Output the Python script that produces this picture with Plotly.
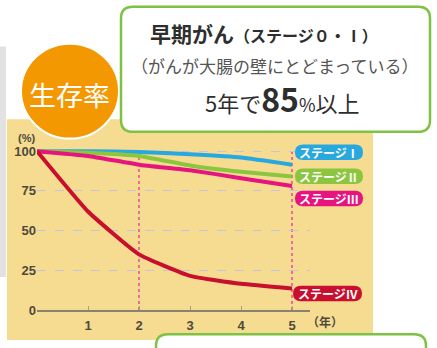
import plotly.graph_objects as go

# ---------------- data ----------------
years = [0, 1, 2, 3, 4, 5]
stage1 = [100, 100, 99.5, 98, 96, 91.5]
stage2 = [100, 99, 97, 91, 87, 84]
stage3 = [100, 97, 91.5, 88, 83, 78]
stage4 = [100, 62, 35, 21.5, 16.5, 13.5]
series_names = ["ステージⅠ", "ステージⅡ", "ステージⅢ", "ステージⅣ"]
series_values = [stage1, stage2, stage3, stage4]
series_colors = ["#27a8e0", "#8cc63f", "#e5147f", "#c8102e"]
y_ticks = [0, 25, 50, 75, 100]
x_ticks = [1, 2, 3, 4, 5]
marked_years = [2, 5]

# ---------------- layout helpers (pixel -> paper) ----------------
W, H = 437, 348


def px(x):
    return x / W


def py(y):
    return 1 - y / H


def rrect(x0, y0, x1, y1, r):
    """rounded rectangle path in paper coords from pixel coords"""
    pts = [
        f"M {px(x0 + r)} {py(y0)}",
        f"L {px(x1 - r)} {py(y0)}",
        f"Q {px(x1)} {py(y0)} {px(x1)} {py(y0 + r)}",
        f"L {px(x1)} {py(y1 - r)}",
        f"Q {px(x1)} {py(y1)} {px(x1 - r)} {py(y1)}",
        f"L {px(x0 + r)} {py(y1)}",
        f"Q {px(x0)} {py(y1)} {px(x0)} {py(y1 - r)}",
        f"L {px(x0)} {py(y0 + r)}",
        f"Q {px(x0)} {py(y0)} {px(x0 + r)} {py(y0)}",
        "Z",
    ]
    return " ".join(pts)


# plot area in pixels
X0_PX, X_PER_YEAR = 37, 51
DOM_L, DOM_R = 37, 310
Y0_PX, Y_PER_UNIT = 317, 1.64
DOM_T = 149

fig = go.Figure()

for name, vals, col in zip(series_names, series_values, series_colors):
    fig.add_trace(go.Scatter(
        x=years, y=vals, mode="lines", name=name,
        line=dict(color=col, width=4, shape="spline", smoothing=0.4),
        hoverinfo="skip", showlegend=False,
    ))

shapes = []
# left grey strip
shapes.append(dict(type="rect", xref="paper", yref="paper",
                   x0=px(0), x1=px(6), y0=py(45), y1=py(283),
                   fillcolor="#e2e2e2", line=dict(width=0), layer="below"))
# beige panel
shapes.append(dict(type="rect", xref="paper", yref="paper",
                   x0=px(7), x1=px(373), y0=py(120), y1=py(348),
                   fillcolor="#f6dc91", line=dict(width=0), layer="below"))
# orange circle
shapes.append(dict(type="circle", xref="paper", yref="paper",
                   x0=px(21), x1=px(119), y0=py(42), y1=py(140),
                   fillcolor="#f39800", line=dict(color="white", width=2), layer="below"))
# top green box
shapes.append(dict(type="path", xref="paper", yref="paper",
                   path=rrect(121, 4, 430, 133, 12),
                   fillcolor="white", line=dict(color="#7dc243", width=2.5), layer="below"))
# bottom green box (partially visible)
shapes.append(dict(type="path", xref="paper", yref="paper",
                   path=rrect(156, 342, 426, 380, 12),
                   fillcolor="white", line=dict(color="#7dc243", width=2.5), layer="below"))
# vertical pink dotted lines
for yr in marked_years:
    shapes.append(dict(type="line", xref="x", yref="y", x0=yr, x1=yr, y0=0, y1=100,
                       line=dict(color="#ec5f9f", width=1.8, dash="dot"), layer="below"))

# stage pills
pill_y = [154, 179, 202, 300]
pill_x0 = [295, 295, 295, 293]
pill_x1 = [363, 363, 363, 362]
annotations = []
for name, col, yc, xa, xb in zip(series_names, series_colors, pill_y, pill_x0, pill_x1):
    shapes.append(dict(type="path", xref="paper", yref="paper",
                       path=rrect(xa, yc - 8, xb, yc + 8, 8),
                       fillcolor=col, line=dict(width=0), layer="above"))
    annotations.append(dict(xref="paper", yref="paper", x=px((xa + xb) / 2), y=py(yc),
                            text=f"<b>{name}</b>", showarrow=False,
                            font=dict(family="Noto Sans CJK JP", size=12, color="white"),
                            xanchor="center", yanchor="middle"))

JP = "Noto Sans CJK JP"
annotations += [
    dict(xref="paper", yref="paper", x=px(69), y=py(95), text="生存率", showarrow=False,
         font=dict(family=JP, size=27, color="white"), xanchor="center", yanchor="middle"),
    dict(xref="paper", yref="paper", x=px(264), y=py(31),
         text="<b>早期がん</b><b><span style='font-size:16px'>（ステージ０・Ⅰ）</span></b>",
         showarrow=False, font=dict(family=JP, size=21, color="#2e2e2e"),
         xanchor="center", yanchor="middle"),
    dict(xref="paper", yref="paper", x=px(274), y=py(65),
         text="（がんが大腸の壁にとどまっている）", showarrow=False,
         font=dict(family=JP, size=17, color="#555555"), xanchor="center", yanchor="middle"),
    dict(xref="paper", yref="paper", x=px(282), y=py(98),
         text="5年で<b><span style='font-size:32px'>85</span></b><span style='font-size:18px'>%</span>以上",
         showarrow=False, font=dict(family=JP, size=22, color="#2e2e2e"),
         xanchor="center", yanchor="middle"),
    dict(xref="paper", yref="paper", x=px(26), y=py(139), text="<b>(%)</b>", showarrow=False,
         font=dict(family="Liberation Sans", size=11, color="#4d4a3c"),
         xanchor="center", yanchor="middle"),
    dict(xref="paper", yref="paper", x=px(325), y=py(329), text="<b>（年）</b>", showarrow=False,
         font=dict(family=JP, size=12, color="#4d4a3c"),
         xanchor="center", yanchor="middle"),
]

x_range = [(DOM_L - X0_PX) / X_PER_YEAR, (DOM_R - X0_PX) / X_PER_YEAR]
y_range = [(Y0_PX - Y0_PX) / Y_PER_UNIT, (Y0_PX - DOM_T) / Y_PER_UNIT]

fig.update_layout(
    width=W, height=H, autosize=False,
    margin=dict(l=0, r=0, t=0, b=0, pad=0),
    paper_bgcolor="white", plot_bgcolor="rgba(0,0,0,0)",
    shapes=shapes, annotations=annotations,
    xaxis=dict(domain=[px(DOM_L), px(DOM_R)], range=x_range,
               tickvals=x_ticks, ticktext=[str(v) for v in x_ticks],
               ticks="inside", ticklen=4, tickcolor="#a79f8a", tickwidth=1,
               showline=True, linecolor="#8a8270", linewidth=2,
               showgrid=False, zeroline=False, fixedrange=True, ticklabelstandoff=2,
               tickfont=dict(family="Liberation Sans", size=13, color="#4d4a3c", weight="bold")),
    yaxis=dict(domain=[py(Y0_PX), py(DOM_T)], range=y_range,
               tickvals=y_ticks, ticktext=[str(v) for v in y_ticks],
               ticks="", showline=False, zeroline=False, fixedrange=True,
               showgrid=True, gridcolor="#c9c2d8", gridwidth=1, griddash="dash",
               tickfont=dict(family="Liberation Sans", size=13, color="#4d4a3c", weight="bold")),
)

fig.write_html("out.html")
